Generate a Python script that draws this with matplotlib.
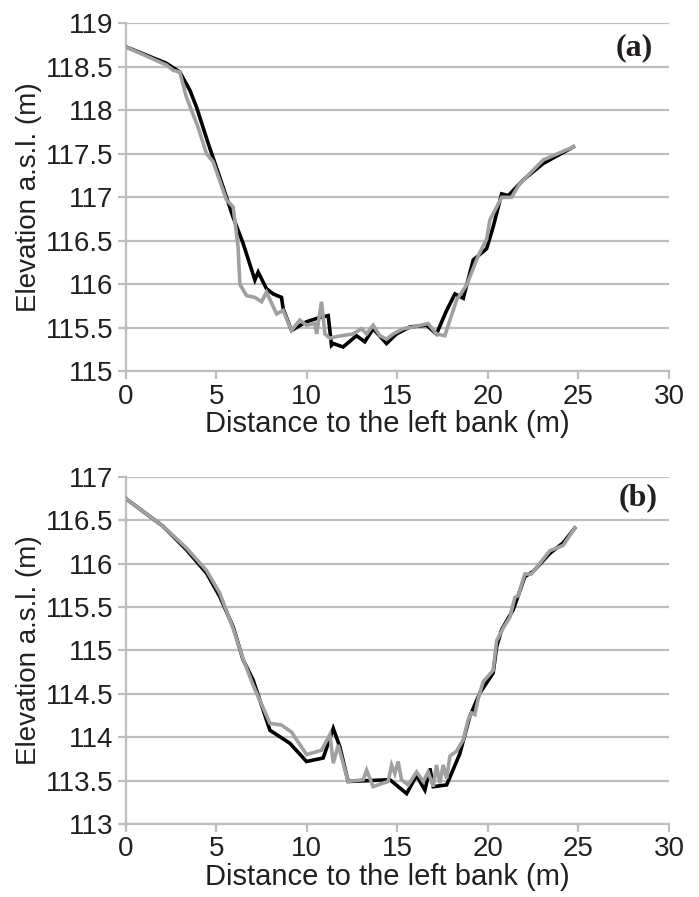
import matplotlib
matplotlib.use('Agg')
import matplotlib.pyplot as plt

# Panel (a) profiles
a_black_x = [0, 2.25, 2.98, 3.54, 3.9, 4.55, 5.19, 5.93, 6.48, 7.13, 7.31, 7.77, 8.14, 8.6, 8.69,
             9.15, 9.98, 10.72, 11.18, 11.36, 11.46, 12.0, 12.74, 13.2, 13.66, 14.4, 14.95,
             15.69, 16.61, 17.16, 17.72, 18.18, 18.64, 19.19, 19.93, 20.29, 20.76, 21.13,
             21.95, 23.06, 24.72]
a_black_y = [118.73, 118.54, 118.44, 118.23, 118.04, 117.62, 117.23, 116.77, 116.47, 116.05,
             116.14, 115.95, 115.89, 115.85, 115.72, 115.47, 115.57, 115.62, 115.64, 115.30,
             115.32, 115.28, 115.41, 115.34, 115.49, 115.32, 115.43, 115.51, 115.53, 115.43,
             115.70, 115.89, 115.84, 116.28, 116.41, 116.66, 117.04, 117.02, 117.20, 117.39,
             117.58]
a_gray_x = [0, 2.25, 2.62, 2.98, 3.35, 4.0, 4.46, 4.82, 5.56, 5.93, 6.2, 6.3, 6.67, 7.13, 7.5,
            7.77, 8.33, 8.69, 9.15, 9.61, 9.98, 10.44, 10.54, 10.81, 11.0, 11.27, 11.64, 12.56,
            13.02, 13.3, 13.66, 14.03, 14.4, 14.77, 15.32, 15.87, 16.7, 17.16, 17.62, 18.27,
            18.82, 19.47, 19.93, 20.11, 20.76, 21.3, 21.77, 23.06, 24.72]
a_gray_y = [118.73, 118.52, 118.46, 118.44, 118.15, 117.8, 117.5, 117.41, 116.97, 116.89,
            116.43, 116.0, 115.87, 115.85, 115.80, 115.91, 115.66, 115.70, 115.47, 115.59,
            115.53, 115.55, 115.43, 115.80, 115.43, 115.38, 115.40, 115.43, 115.49, 115.43,
            115.53, 115.41, 115.37, 115.43, 115.49, 115.51, 115.55, 115.43, 115.41, 115.82,
            115.99, 116.33, 116.52, 116.74, 117.0, 117.0, 117.16, 117.43, 117.58]

# Panel (b) profiles
b_black_x = [0, 0.96, 2.06, 3.35, 4.46, 5.19, 5.93, 6.48, 7.03, 7.96, 9.06, 9.98, 10.9, 11.46,
             11.82, 12.28, 14.59, 15.51, 16.06, 16.52, 16.8, 16.98, 17.72, 18.45, 19.0, 19.56,
             20.29, 20.48, 20.76, 21.4, 22.04, 22.5, 23.43, 24.16, 24.8]
b_black_y = [116.75, 116.6, 116.43, 116.16, 115.89, 115.62, 115.27, 114.89, 114.66, 114.08,
             113.93, 113.72, 113.76, 114.1, 113.89, 113.49, 113.51, 113.35, 113.56, 113.39,
             113.64, 113.43, 113.45, 113.81, 114.24, 114.51, 114.74, 115.04, 115.24, 115.47,
             115.85, 115.91, 116.12, 116.24, 116.41]
b_gray_x = [0, 0.96, 2.06, 3.35, 4.46, 5.19, 5.93, 6.48, 7.03, 7.96, 8.6, 9.15, 9.98, 10.81,
            11.27, 11.46, 11.73, 12.28, 13.11, 13.3, 13.66, 14.49, 14.68, 14.86, 15.04, 15.23,
            15.6, 16.06, 16.43, 16.7, 16.98, 17.16, 17.35, 17.53, 17.72, 17.9, 18.27, 18.64,
            18.91, 19.1, 19.28, 19.47, 19.74, 20.29, 20.48, 20.85, 21.21, 21.49, 21.67, 22.04,
            22.4, 23.43, 24.16, 24.8]
b_gray_y = [116.75, 116.6, 116.43, 116.18, 115.92, 115.66, 115.25, 114.9, 114.6, 114.16,
            114.14, 114.06, 113.8, 113.85, 114.03, 113.7, 113.91, 113.49, 113.51, 113.62,
            113.43, 113.49, 113.68, 113.58, 113.72, 113.51, 113.45, 113.6, 113.49, 113.6,
            113.43, 113.68, 113.47, 113.68, 113.52, 113.78, 113.84, 113.97, 114.2, 114.28,
            114.26, 114.45, 114.64, 114.77, 115.11, 115.26, 115.38, 115.61, 115.63, 115.88,
            115.88, 116.15, 116.21, 116.41]

x_ticks = [0, 5, 10, 15, 20, 25, 30]
a_yticks = [115, 115.5, 116, 116.5, 117, 117.5, 118, 118.5, 119]
b_yticks = [113, 113.5, 114, 114.5, 115, 115.5, 116, 116.5, 117]

plt.rcParams['font.family'] = ['Liberation Sans', 'DejaVu Sans']
text_col = '#231f20'
grid_col = '#bdbec0'

fig = plt.figure(figsize=(6.99, 8.97), dpi=100)
ax_a = fig.add_axes([0.180, 0.586, 0.777, 0.388])
ax_b = fig.add_axes([0.180, 0.0814, 0.777, 0.387])

panels = [
    (ax_a, a_black_x, a_black_y, a_gray_x, a_gray_y, a_yticks, '(a)', 0.971, 0.931),
    (ax_b, b_black_x, b_black_y, b_gray_x, b_gray_y, b_yticks, '(b)', 0.98, 0.94),
]

for ax, bx, by, gx, gy, yt, tag, tx, ty in panels:
    ax.plot(bx, by, color='black', lw=2.6, solid_joinstyle='miter', zorder=3)
    ax.plot(gx, gy, color='#a0a0a0', lw=2.6, solid_joinstyle='miter', zorder=4)
    ax.set_xlim(0, 30)
    ax.set_ylim(yt[0], yt[-1])
    ax.set_xticks(x_ticks)
    ax.set_yticks(yt)
    ax.set_yticklabels([f'{v:g}' for v in yt])
    ax.grid(axis='y', color=grid_col, lw=1.6, zorder=1)
    for s in ['top', 'right']:
        ax.spines[s].set_visible(False)
    for s in ['left', 'bottom']:
        ax.spines[s].set_color(grid_col)
        ax.spines[s].set_linewidth(1.6)
    ax.tick_params(colors=grid_col, width=1.6, length=6, labelsize=20,
                   labelcolor=text_col, pad=3)
    ax.set_xlabel('Distance to the left bank (m)', fontsize=21, color=text_col)
    ax.xaxis.set_label_coords(0.482, -0.112)
    ax.set_ylabel('Elevation a.s.l. (m)', fontsize=20, color=text_col, labelpad=3)
    ax.text(tx, ty, tag, transform=ax.transAxes, ha='right', va='center',
            fontsize=23, fontweight='bold', family='Liberation Serif', color=text_col)

fig.savefig('out.png', dpi=100)
